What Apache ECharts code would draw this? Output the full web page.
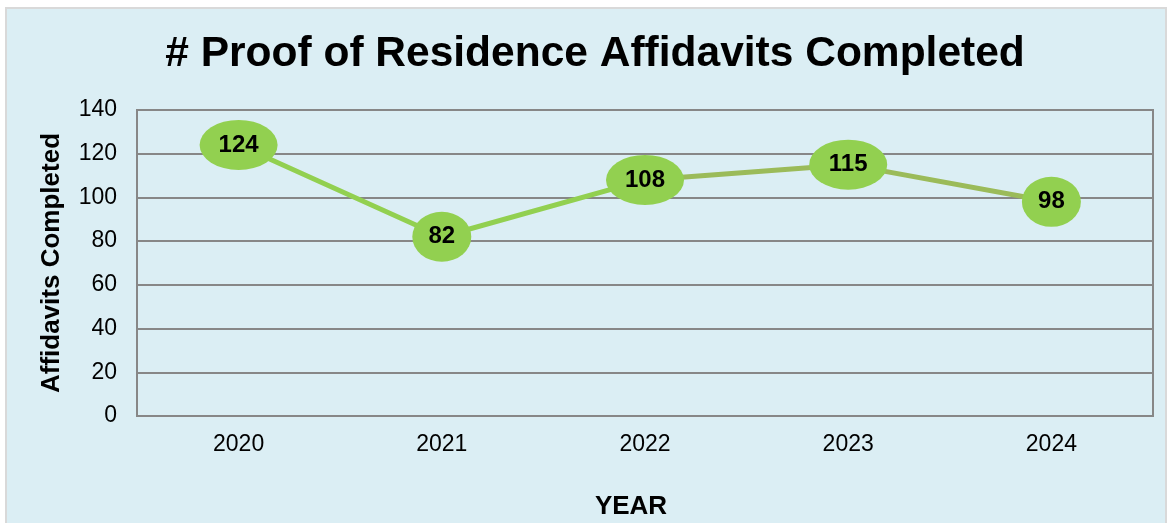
<!DOCTYPE html>
<html>
<head>
<meta charset="utf-8">
<script src="https://cdn.jsdelivr.net/npm/echarts@6/dist/echarts.min.js"></script>
<style>
html,body{margin:0;padding:0;background:#ffffff;}
#chart{width:1172px;height:523px;}
</style>
</head>
<body>
<div id="chart"></div>
<script>
const categories = ['2020', '2021', '2022', '2023', '2024'];
const values = [124, 82, 108, 115, 98];
const yTicks = { min: 0, max: 140, interval: 20 };
const splitIndex = 2;

const chart = echarts.init(document.getElementById('chart'), null, { renderer: 'canvas' });
const font = '"Liberation Sans", Arial, sans-serif';

const firstPart = values.map((v, i) => (i <= splitIndex ? v : '-'));
const secondPart = values.map((v, i) => (i >= splitIndex ? v : '-'));

chart.setOption({
  backgroundColor: '#ffffff',
  animation: false,
  graphic: [{
    type: 'rect',
    z: -10,
    shape: { x: 6, y: 8, width: 1160, height: 530 },
    style: { fill: '#dbeef4', stroke: '#d9d9d9', lineWidth: 2 }
  }],
  title: {
    text: '# Proof of Residence Affidavits Completed',
    left: 590,
    textAlign: 'center',
    top: 28,
    textStyle: { fontFamily: font, fontWeight: 'bold', fontSize: 42.5, color: '#000000' }
  },
  grid: {
    left: 137, right: 19, top: 110, bottom: 107,
    outerBoundsMode: 'none',
    containLabel: false,
    show: true, borderColor: '#878787', borderWidth: 2, backgroundColor: 'transparent'
  },
  xAxis: {
    type: 'category',
    data: categories,
    boundaryGap: true,
    name: 'YEAR',
    nameLocation: 'middle',
    nameGap: 78,
    nameTextStyle: { fontFamily: font, fontWeight: 'bold', fontSize: 26, color: '#000', padding: [0, 28, 0, 0] },
    axisLine: { show: true, lineStyle: { color: '#878787', width: 2 } },
    axisTick: { show: false },
    axisLabel: { fontFamily: font, fontSize: 23, color: '#000', margin: 17 }
  },
  yAxis: {
    type: 'value',
    min: yTicks.min, max: yTicks.max, interval: yTicks.interval,
    name: 'Affidavits Completed',
    nameLocation: 'middle',
    nameGap: 72,
    nameRotate: 90,
    nameTextStyle: { fontFamily: font, fontWeight: 'bold', fontSize: 26, color: '#000' },
    axisLine: { show: true, lineStyle: { color: '#878787', width: 2 } },
    axisTick: { show: false },
    axisLabel: { fontFamily: font, fontSize: 23, color: '#000', margin: 20 },
    splitLine: { show: true, lineStyle: { color: '#878787', width: 2 } }
  },
  series: [
    {
      type: 'line',
      data: firstPart,
      symbol: 'none',
      lineStyle: { color: '#92d050', width: 5 },
      z: 2
    },
    {
      type: 'line',
      data: secondPart,
      symbol: 'none',
      lineStyle: { color: '#9bbb59', width: 5 },
      z: 2
    },
    {
      type: 'scatter',
      data: values,
      symbol: 'circle',
      symbolSize: (v) => (String(v).length > 2 ? [78, 50] : [59, 50]),
      itemStyle: { color: '#92d050', opacity: 1 },
      z: 5,
      label: {
        show: true,
        position: 'inside',
        fontFamily: font,
        fontWeight: 'bold',
        fontSize: 24,
        color: '#000'
      }
    }
  ]
});
</script>
</body>
</html>
